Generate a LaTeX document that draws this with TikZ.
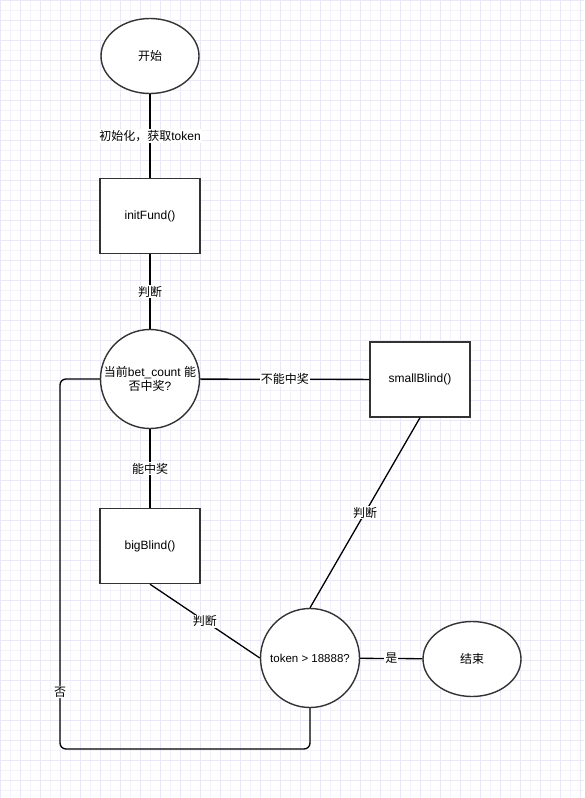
\documentclass[tikz,border=0pt]{standalone}
\usepackage{fontspec}
\setmainfont{Liberation Sans}
\newfontfamily\cjk{Noto Sans CJK SC}
\usepackage{tikz}
\usetikzlibrary{positioning,shapes.geometric}

\definecolor{gridminor}{HTML}{F3F3FB}
\definecolor{gridmajor}{HTML}{E8E8F8}
\definecolor{shapeline}{HTML}{333333}

\begin{document}
\begin{tikzpicture}[x=1pt,y=-1pt,
  terminal/.style={ellipse,draw=shapeline,line width=1.4pt,fill=white,
                   minimum width=98pt,minimum height=75pt,font=\fontsize{12}{14}\selectfont},
  process/.style={rectangle,draw=shapeline,line width=1.4pt,fill=white,
                  minimum width=100pt,minimum height=75pt,font=\fontsize{12}{14}\selectfont},
  decision/.style={circle,draw=shapeline,line width=1.4pt,fill=white,inner sep=0pt,
                   minimum size=99pt,align=center,font=\fontsize{12}{14}\selectfont},
  link/.style={line width=1.3pt,black},
  lbl/.style={fill=white,inner sep=1pt,font=\fontsize{12}{14}\selectfont}]

\useasboundingbox (0,0) rectangle (584,798);
\fill[white] (0,0) rectangle (584,798);
\draw[gridminor,line width=0.8pt,step=10pt] (0,0) grid (584,798);
\draw[gridmajor,line width=0.8pt,step=20pt] (0,0) grid (584,798);

\node[terminal] (start) at (150,56) {\cjk 开始};
\node[process]  (init)  at (150,216) {initFund()};
\node[decision] (check) at (150,379)
  {{\cjk 当前}bet\_count {\cjk 能}\\{\cjk 否中奖}?};
\node[process]  (small) at (420,379.5) {smallBlind()};
\node[process]  (big)   at (150,546) {bigBlind()};
\node[decision,font=\fontsize{11.5}{14}\selectfont] (token) at (310,658) {token > 18888?};
\node[terminal] (stop)  at (472,659) {\cjk 结束};
\coordinate (loopleft) at (60,749);

\draw[link] (start) -- node[lbl]{{\cjk 初始化，获取}token} (init);
\draw[link] (init) -- node[lbl]{\cjk 判断} (check);
\draw[link] (check) -- node[lbl]{\cjk 不能中奖} (small);
\draw[link] (check) -- node[lbl]{\cjk 能中奖} (big);
\draw[link] (big.south) -- node[lbl]{\cjk 判断} (token.west);
\draw[link] (small.south) -- node[lbl]{\cjk 判断} (token.north);
\draw[link] (token) -- node[lbl]{\cjk 是} (stop);
\draw[link,rounded corners=6pt] (token.south) |- (loopleft)
  |- node[lbl,pos=0.077]{\cjk 否} (check.west);
\end{tikzpicture}
\end{document}
